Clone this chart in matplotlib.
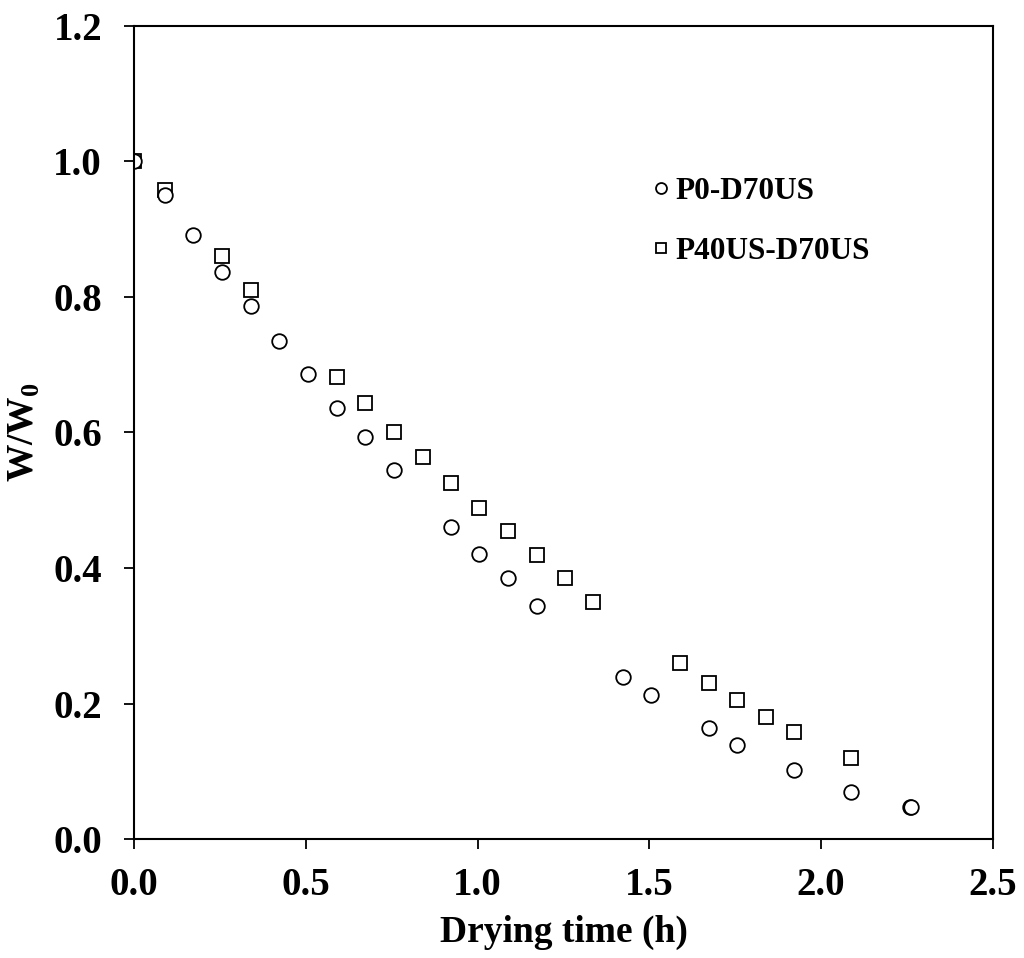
import numpy as np
import matplotlib
matplotlib.use('Agg')
import matplotlib.pyplot as plt

plt.rcParams['font.family'] = ['Liberation Serif', 'DejaVu Serif']
plt.rcParams['font.weight'] = 'bold'
plt.rcParams['mathtext.fontset'] = 'custom'
plt.rcParams['mathtext.rm'] = 'Liberation Serif:bold'
plt.rcParams['mathtext.bf'] = 'Liberation Serif:bold'

# P0-D70US (circles)
t_p0 = [0.0, 0.09, 0.172, 0.256, 0.34, 0.422, 0.506, 0.59, 0.672, 0.757,
        0.923, 1.004, 1.088, 1.173, 1.423, 1.505, 1.673, 1.755, 1.921, 2.087, 2.258, 2.261]
w_p0 = [1.0, 0.951, 0.891, 0.837, 0.787, 0.735, 0.686, 0.636, 0.593, 0.545,
        0.461, 0.421, 0.385, 0.344, 0.239, 0.213, 0.164, 0.139, 0.102, 0.069, 0.047, 0.047]

# P40US-D70US (squares)
t_p40 = [0.0, 0.09, 0.256, 0.34, 0.59, 0.672, 0.757, 0.841, 0.923, 1.004,
         1.088, 1.173, 1.254, 1.336, 1.589, 1.673, 1.755, 1.839, 1.921, 2.087]
w_p40 = [1.0, 0.958, 0.860, 0.810, 0.682, 0.644, 0.601, 0.564, 0.525, 0.489,
         0.455, 0.419, 0.385, 0.350, 0.260, 0.230, 0.205, 0.180, 0.158, 0.120]

fig = plt.figure(figsize=(10.24, 9.58), dpi=100)
ax = fig.add_axes([0.1309, 0.1242, 0.8388, 0.8487])

ax.plot(t_p0, w_p0, linestyle='none', marker='o', markersize=10.5,
        markerfacecolor='white', markeredgecolor='black', markeredgewidth=1.3,
        label='P0-D70US')
ax.plot(t_p40, w_p40, linestyle='none', marker='s', markersize=10.5,
        markerfacecolor='white', markeredgecolor='black', markeredgewidth=1.3,
        label='P40US-D70US', zorder=1)

ax.set_xlim(0, 2.5)
ax.set_ylim(0, 1.2)
ax.set_xticks(np.arange(0, 2.51, 0.5))
ax.set_yticks(np.arange(0, 1.21, 0.2))
ax.set_xticklabels(['%.1f' % v for v in np.arange(0, 2.51, 0.5)])
ax.set_yticklabels(['%.1f' % v for v in np.arange(0, 1.21, 0.2)])
ax.tick_params(direction='out', length=7, width=1.3, labelsize=28, pad=13)
ax.tick_params(axis='y', pad=16)
for s in ax.spines.values():
    s.set_linewidth(1.5)

ax.set_xlabel('Drying time (h)', fontsize=27, fontweight='bold', labelpad=8)
ax.set_ylabel('W/W$_{0}$', fontsize=27, fontweight='bold', labelpad=8)

ax.legend(loc='upper left', bbox_to_anchor=(0.588, 0.83), frameon=False,
          fontsize=22.5, markerscale=0.75, handlelength=0.6, handletextpad=0.15,
          labelspacing=1.0, borderaxespad=0)

fig.savefig('out.png', dpi=100)
